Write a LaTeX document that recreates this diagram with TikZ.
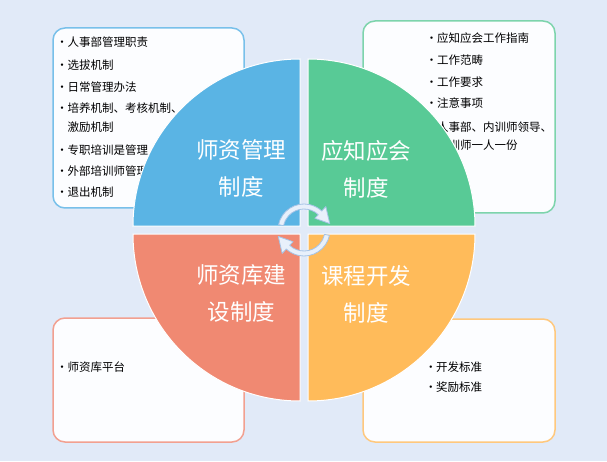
\documentclass[tikz,border=0pt]{standalone}
\usepackage{fontspec}
\usepackage{xcolor}
\usepackage{tikz}
\setmainfont{Noto Sans CJK SC}
\usetikzlibrary{calc}
\definecolor{cBg}{RGB}{225,234,248}
\definecolor{cBoxFill}{RGB}{252,253,255}
\definecolor{cBlue}{RGB}{90,180,228}
\definecolor{cBlueLine}{RGB}{120,192,234}
\definecolor{cMint}{RGB}{88,202,150}
\definecolor{cMintLine}{RGB}{125,212,172}
\definecolor{cSalmon}{RGB}{240,137,114}
\definecolor{cSalmonLine}{RGB}{242,160,144}
\definecolor{cAmber}{RGB}{255,187,90}
\definecolor{cAmberLine}{RGB}{255,200,125}
\definecolor{cArrowFill}{RGB}{232,240,251}
\definecolor{cArrowLine}{RGB}{165,195,230}
\newcommand{\blt}[1]{\llap{\makebox[0pt]{•}\hskip5.3pt}#1}
\tikzset{
	itembox/.style ={rounded corners=12pt, line width=1.5pt, fill=cBoxFill},
	itemtxt/.style ={anchor=west, inner sep=0pt, font=\fontsize{11.5}{13}\selectfont},
	quad/.style    ={draw=white, line width=1pt},
	quadtxt/.style ={text=white, align=center, inner sep=0pt, font=\fontsize{22.5}{36.5}\selectfont},
	cyclearrow/.style={fill=cArrowFill, draw=cArrowLine, line width=0.8pt, line join=round},
}

\begin{document}
\begin{tikzpicture}[x=1pt, y=1pt]
	\useasboundingbox (0,0) rectangle (607,461);
	\fill[cBg] (0,0) rectangle (607,461);
	% side boxes
	\draw[itembox, draw=cBlueLine]   (53,253) rectangle (244,433);
	\draw[itembox, draw=cMintLine]   (363,248) rectangle (555,440);
	\draw[itembox, draw=cSalmonLine] (53,19) rectangle (244,143);
	\draw[itembox, draw=cAmberLine]  (363,19) rectangle (555,142);
	% lists
	\node[itemtxt] (tl1) at (67.3,418.7) {\blt{人事部管理职责}};
	\node[itemtxt] (tl2) at (67.3,396)   {\blt{选拔机制}};
	\node[itemtxt] (tl3) at (67.3,374.3) {\blt{日常管理办法}};
	\node[itemtxt] (tl4) at (67.3,353.3) {\blt{培养机制、考核机制、}};
	\node[itemtxt] (tl4b) at (67.3,334.3) {激励机制};
	\node[itemtxt] (tl5) at (67.3,311)   {\blt{专职培训是管理}};
	\node[itemtxt] (tl6) at (67.3,290.3) {\blt{外部培训师管理}};
	\node[itemtxt] (tl7) at (67.3,269.3) {\blt{退出机制}};
	\node[itemtxt] (tr1) at (436.8,422.7) {\blt{应知应会工作指南}};
	\node[itemtxt] (tr2) at (436.8,401)   {\blt{工作范畴}};
	\node[itemtxt] (tr3) at (436.8,379.3) {\blt{工作要求}};
	\node[itemtxt] (tr4) at (436.8,358.3) {\blt{注意事项}};
	\node[itemtxt] (tr5) at (436.8,334.3) {\blt{人事部、内训师领导、}};
	\node[itemtxt] (tr5b) at (436.8,316)  {内训师一人一份};
	\node[itemtxt] (bl1) at (67.3,94.3)  {\blt{师资库平台}};
	\node[itemtxt] (br1) at (436,94.3)   {\blt{开发标准}};
	\node[itemtxt] (br2) at (436,74.3)   {\blt{奖励标准}};
	% quarters
	\filldraw[quad, fill=cBlue]   (300,235) -- ++(-167,0) arc[start angle=180, end angle=90, radius=167] -- cycle;
	\filldraw[quad, fill=cMint]   (308,235) -- ++(0,167) arc[start angle=90, end angle=0, radius=167] -- cycle;
	\filldraw[quad, fill=cSalmon] (300,227) -- ++(0,-167) arc[start angle=270, end angle=180, radius=167] -- cycle;
	\filldraw[quad, fill=cAmber]  (308,227) -- ++(167,0) arc[start angle=0, end angle=-90, radius=167] -- cycle;
	\node[quadtxt] (qtl) at (241,292.7) {师资管理\\制度};
	\node[quadtxt] (qtr) at (366,291.8) {应知应会\\制度};
	\node[quadtxt] (qbl) at (241.3,167.7) {师资库建\\设制度};
	\node[quadtxt] (qbr) at (366.3,166.8) {课程开发\\制度};
	% cycle arrows
	\coordinate (c) at (304,231);
	\filldraw[cyclearrow] ($(c)+(168:26)$) arc[start angle=168, end angle=47, radius=26]
		-- ($(c)+(47:32)$) -- ($(c)+(14:26.5)$) -- ($(c)+(47:16)$) -- ($(c)+(47:21)$)
		arc[start angle=47, end angle=168, radius=21] -- cycle;
	\filldraw[cyclearrow] ($(c)+(-12:26)$) arc[start angle=-12, end angle=-133, radius=26]
		-- ($(c)+(-133:32)$) -- ($(c)+(-166:26.5)$) -- ($(c)+(-133:16)$) -- ($(c)+(-133:21)$)
		arc[start angle=-133, end angle=-12, radius=21] -- cycle;
\end{tikzpicture}
\end{document}
